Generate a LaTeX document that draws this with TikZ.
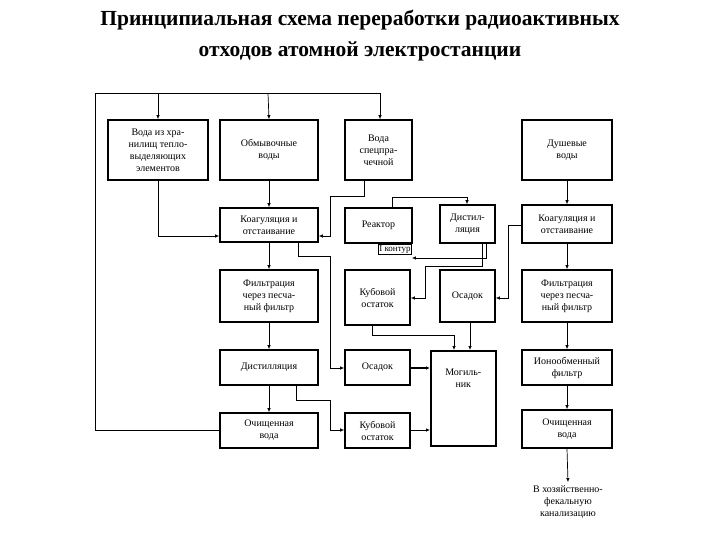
\documentclass[tikz,border=0pt]{standalone}
\usepackage{fontspec}
\setmainfont{Liberation Serif}
\usetikzlibrary{arrows.meta}
\begin{document}
\begin{tikzpicture}[x=1pt,y=-1pt,
  box/.style={draw,line width=1.6pt,align=center,font=\fontsize{10}{12}\selectfont,inner sep=1pt},
  ar/.style={-{Latex[length=4pt,width=3.5pt]},line width=0.7pt},
  ln/.style={line width=0.7pt}]
\useasboundingbox (0,0) rectangle (720,540);
\node[font=\bfseries\fontsize{21.5}{31}\selectfont,align=center] (title) at (360,36) {Принципиальная схема переработки радиоактивных\\отходов атомной электростанции};
\newcommand{\bx}[6]{\node[box,minimum width=#4-#2,minimum height=#5-#3] (#1) at ({(#2+#4)/2},{(#3+#5)/2}) {#6};}
\bx{a1}{108}{120}{208}{180}{Вода из хра-\\нилищ тепло-\\выделяющих\\элементов}
\bx{a2}{220}{120}{318}{180}{Обмывочные\\воды}
\bx{a3}{345}{120}{412}{180}{Вода\\спецпра-\\чечной}
\bx{a4}{522}{120}{612}{180}{Душевые\\воды}
\bx{k1}{220}{208}{318}{242}{Коагуляция и\\отстаивание}
\bx{re}{345}{208}{412}{243}{Реактор}
\bx{di}{440}{205}{495}{243}{Дистил-\\ляция}
\bx{k2}{522}{205}{612}{243}{Коагуляция и\\отстаивание}
\bx{f1}{220}{270}{318}{322}{Фильтрация\\через песча-\\ный фильтр}
\bx{ku1}{345}{270}{410}{325}{Кубовой\\остаток}
\bx{os1}{440}{270}{495}{322}{Осадок}
\bx{f2}{522}{270}{612}{322}{Фильтрация\\через песча-\\ный фильтр}
\bx{d1}{220}{350}{318}{385}{Дистилляция}
\bx{os2}{345}{350}{410}{385}{Осадок}
\node[box,minimum width=65,minimum height=95,anchor=north west,align=center] (mo) at (430,350) {\\[6pt]Могиль-\\ник\\[40pt]};
\bx{io}{522}{350}{612}{385}{Ионообменный\\фильтр}
\bx{ov1}{220}{413}{318}{448}{Очищенная\\вода}
\bx{ku2}{345}{413}{410}{448}{Кубовой\\остаток}
\bx{ov2}{522}{410}{612}{448}{Очищенная\\вода}
\node[align=center,font=\fontsize{10}{12}\selectfont] (kan) at (568,502) {В хозяйственно-\\фекальную\\канализацию};
\node[draw,line width=0.6pt,font=\fontsize{9}{10}\selectfont,inner sep=1pt,anchor=north west] (kont) at (378,244) {I контур};
% loop
\draw[ln] (ov1.west|-0,430) -- (95,430) -- (95,93) -- (380,93);
\coordinate (t1) at (158,93);\coordinate (t2) at (268,93);\coordinate (t3) at (380,93);
\draw[ar] (t1) -- (a1.north-|t1);
\draw[ar] (t2) -- (a2.north);
\draw[ar] (t3) -- (a3.north-|t3);
% to coagulation
\draw[ar] (a1.south-|158,0) -- (158,236) -- (k1.west|-0,236);
\draw[ar] (a2.south) -- (k1.north);
\draw[ar] (a3.south-|364,0) -- (364,196) -- (330,196) -- (330,236) -- (k1.east|-0,236);
% reactor loop
\draw[ar] (re.north-|392,0) -- (392,197) -- (467,197) -- (di.north-|467,0);
\draw[ar] (di.south-|486,0) -- (486,258) -- (kont.south east|-0,258);
\draw[ln] (kont.south west) -- (kont.north west);
% distillation to kubovoi
\draw[ar] (di.south-|482,0) -- (482,266) -- (425,266) -- (425,298) -- (ku1.east|-0,298);
% right coag to osadok
\draw[ar] (k2.west|-0,225) -- (508,225) -- (508,298) -- (os1.east|-0,298);
% left coag to osadok 2
\draw[ar] (k1.south-|298,0) -- (298,256) -- (330,256) -- (330,368) -- (os2.west|-0,368);
% left column
\draw[ar] (k1.south) -- (f1.north);
\draw[ar] (f1.south) -- (d1.north);
\draw[ar] (d1.south) -- (ov1.north);
\draw[ar] (d1.south-|296,0) -- (296,400) -- (330,400) -- (330,430) -- (ku2.west|-0,430);
% to mogilnik
\draw[ar,line width=1.6pt] (os2.east|-0,368) -- (mo.west|-0,368);
\draw[ar] (ku2.east|-0,430) -- (mo.west|-0,430);
\draw[ar] (ku1.south-|372,0) -- (372,335) -- (454,335) -- (mo.north-|454,0);
\draw[ar] (os1.south-|470,0) -- (mo.north-|470,0);
% right column
\draw[ar] (a4.south) -- (k2.north);
\draw[ar] (k2.south) -- (f2.north);
\draw[ar] (f2.south) -- (io.north);
\draw[ar] (io.south) -- (ov2.north);
\draw[ar] (ov2.south) -- (kan.north);
\end{tikzpicture}
\end{document}
